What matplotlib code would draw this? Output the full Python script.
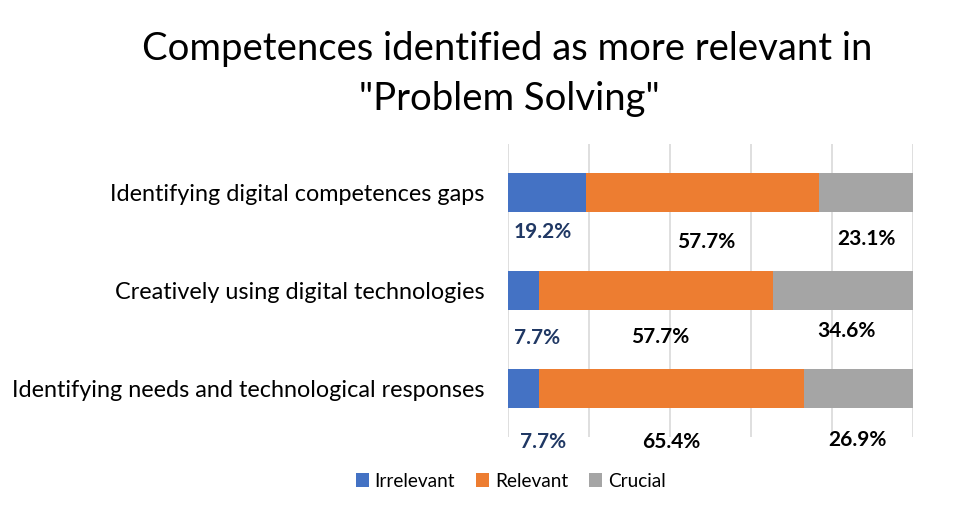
import matplotlib
matplotlib.use("Agg")
import matplotlib.pyplot as plt
import numpy as np

plt.rcParams["font.family"] = ["Lato", "DejaVu Sans"]

categories = ["Identifying digital competences gaps",
              "Creatively using digital technologies",
              "Identifying needs and technological responses"]
series = ["Irrelevant", "Relevant", "Crucial"]
irrelevant = [19.2, 7.7, 7.7]
relevant = [57.7, 57.7, 65.4]
crucial = [23.1, 34.6, 26.9]

colors = ["#4472C4", "#ED7D31", "#A5A5A5"]
label_colors = ["#203864", "black", "black"]
# label placement (x in %, y offset below bar centre) as in the original
label_pos = [
    [(8.5, 0.40), (49.0, 0.50), (88.4, 0.47)],
    [(7.1, 0.49), (37.6, 0.48), (83.7, 0.42)],
    [(8.7, 0.555), (40.3, 0.555), (86.4, 0.53)],
]

fig = plt.figure(figsize=(9.6, 5.14), dpi=100)
ax = fig.add_axes([0.529, 0.150, 0.422, 0.570])

y = np.arange(len(categories))
vals = [irrelevant, relevant, crucial]
left = np.zeros(len(categories))
for name, v, c in zip(series, vals, colors):
    ax.barh(y, v, left=left, height=0.4, color=c, label=name, zorder=2)
    left += np.array(v)

for i in range(len(categories)):
    for j, v in enumerate(vals):
        px, dy = label_pos[i][j]
        ax.text(px, y[i] + dy, f"{v[i]:.1f}%", ha="center", va="center",
                fontsize=15, fontweight="bold", color=label_colors[j], zorder=3)

ax.set_xlim(0, 100)
ax.set_ylim(2.5, -0.5)
ax.set_xticks(np.arange(0, 101, 20))
ax.xaxis.grid(True, color="#D9D9D9", lw=1.2, zorder=0)
ax.tick_params(axis="x", length=0, labelbottom=False)
ax.tick_params(axis="y", length=0, labelsize=16.8, pad=17)
ax.set_yticks(y)
ax.set_yticklabels(categories)
for s in ax.spines.values():
    s.set_visible(False)

fig.text(0.528, 0.883, "Competences identified as more relevant in",
         ha="center", va="baseline", fontsize=27.5)
fig.text(0.531, 0.786, "\"Problem Solving\"", ha="center", va="baseline", fontsize=27.5)

fig.legend(loc="center", bbox_to_anchor=(0.532, 0.064), ncol=3, frameon=False,
           fontsize=13.7, handlelength=0.7, handleheight=0.7, handletextpad=0.3,
           columnspacing=1.1)

fig.savefig("out.png", dpi=100)
